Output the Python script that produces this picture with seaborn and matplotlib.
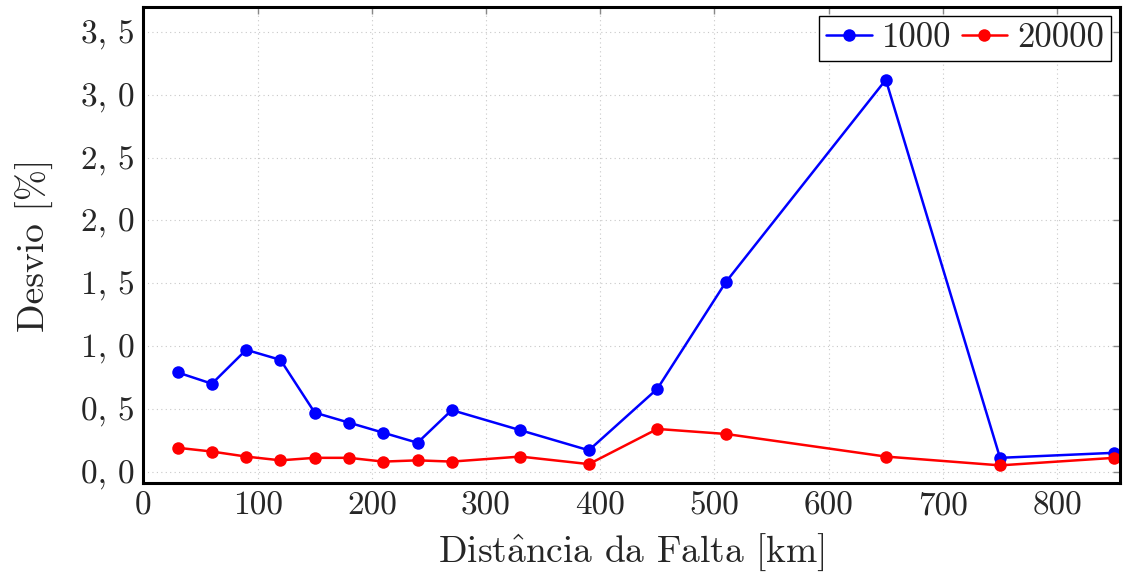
import matplotlib
matplotlib.use("Agg")
import matplotlib.pyplot as plt
import numpy as np
import pandas as pd
import seaborn as sns

# data
distancia = [30, 60, 90, 120, 150, 180, 210, 240, 270, 330, 390, 450, 510, 650, 750, 850]
desvio_1000 = [0.79, 0.70, 0.97, 0.89, 0.47, 0.39, 0.31, 0.23, 0.49, 0.33, 0.17,
               0.66, 1.51, 3.12, 0.11, 0.15]
desvio_20000 = [0.19, 0.16, 0.12, 0.09, 0.11, 0.11, 0.08, 0.09, 0.08, 0.12, 0.06,
                0.34, 0.30, 0.12, 0.05, 0.11]
series = ["1000", "20000"]
cores = {"1000": "#0000ff", "20000": "#ff0000"}
yticks = [0.0, 0.5, 1.0, 1.5, 2.0, 2.5, 3.0, 3.5]
xticks = [0, 100, 200, 300, 400, 500, 600, 700, 800]

df = pd.DataFrame({
    "dist": distancia * 2,
    "desvio": desvio_1000 + desvio_20000,
    "serie": [series[0]] * len(distancia) + [series[1]] * len(distancia),
})

sns.set_style("white")
plt.rcParams["font.family"] = ["cmr10", "DejaVu Serif"]
plt.rcParams["mathtext.fontset"] = "cm"
plt.rcParams["axes.unicode_minus"] = False

fig = plt.figure(figsize=(11.29, 5.77), dpi=100)
ax = fig.add_axes([0.127, 0.163, 0.865, 0.825])

sns.lineplot(data=df, x="dist", y="desvio", hue="serie", palette=cores,
             marker="o", markersize=9, markeredgewidth=0, linewidth=1.8,
             sort=False, ax=ax, legend=False)

ax.set_xlim(0, 855)
ax.set_ylim(-0.09, 3.7)
ax.set_xticks(xticks)
ax.set_xticklabels([str(v) for v in xticks])
ax.set_yticks(yticks)
ax.set_yticklabels([f"{v:.1f}".replace(".", ", ") for v in yticks])

ax.grid(True, color="#c8c8c8", linestyle=(0, (1, 3)), linewidth=0.8)
ax.tick_params(axis="both", which="both", direction="in", length=5, width=1,
               color="#888888", top=True, right=True, labelsize=24, pad=6)
for s in ax.spines.values():
    s.set_color("black")
    s.set_linewidth(2.2)

ax.set_xlabel(r"Dist$\hat{\mathrm{a}}$ncia da Falta [km]", fontsize=27, labelpad=8)
ax.set_ylabel("Desvio [%]", fontsize=27, labelpad=20)

handles = [plt.Line2D([], [], color=cores[s], marker="o", markersize=9,
                      markeredgewidth=0, linewidth=1.8) for s in series]
leg = ax.legend(handles, series, loc="upper right", ncol=2, fontsize=25,
                frameon=True, fancybox=False, framealpha=1, edgecolor="black",
                handlelength=1.3, handletextpad=0.3, columnspacing=0.3,
                borderpad=0.2, borderaxespad=0.25)
leg.get_frame().set_linewidth(1.0)

fig.savefig("out.png", dpi=100)
